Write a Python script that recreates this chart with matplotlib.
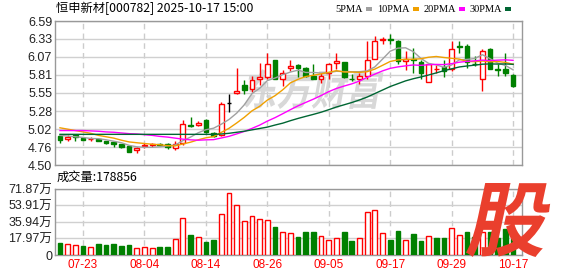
import numpy as np
import matplotlib
matplotlib.use("Agg")
import matplotlib.pyplot as plt
from matplotlib.patches import Rectangle, PathPatch
from matplotlib.textpath import TextPath
from matplotlib.font_manager import FontProperties
from matplotlib.transforms import Affine2D, blended_transform_factory

plt.rcParams["font.family"] = ["Liberation Sans", "Noto Sans CJK SC"]

# ===============================
#  Data
# ===============================

dates = ["07-18", "07-21", "07-22", "07-23", "07-24", "07-25", "07-28", "07-29",
         "07-30", "07-31", "08-01", "08-04", "08-05", "08-06", "08-07", "08-08",
         "08-11", "08-12", "08-13", "08-14", "08-15", "08-18", "08-19", "08-20",
         "08-21", "08-22", "08-25", "08-26", "08-27", "08-28", "08-29", "09-01",
         "09-02", "09-03", "09-04", "09-05", "09-08", "09-09", "09-10", "09-11",
         "09-12", "09-15", "09-16", "09-17", "09-18", "09-19", "09-22", "09-23",
         "09-24", "09-25", "09-26", "09-29", "09-30", "10-09", "10-10", "10-13",
         "10-14", "10-15", "10-16", "10-17"]

opens = [4.92, 4.875, 4.93, 4.885, 4.875, 4.875, 4.85, 4.83, 4.805, 4.77,
         4.715, 4.77, 4.785, 4.80, 4.80, 4.74, 4.82, 5.075, 5.075, 5.15,
         4.97, 4.93, 5.40, 5.545, 5.66, 5.60, 5.745, 5.77, 6.03, 5.755,
         5.905, 5.95, 5.91, 5.79, 5.745, 5.84, 5.975, 6.00, 5.75, 5.745,
         5.79, 6.045, 6.32, 6.335, 6.295, 6.01, 6.035, 5.99, 5.71, 5.89,
         5.925, 5.89, 6.22, 6.225, 5.97, 5.745, 6.185, 5.895, 5.90, 5.80]
highs = [4.955, 4.94, 4.93, 4.90, 4.90, 4.89, 4.855, 4.835, 4.81, 4.77,
         4.76, 4.82, 4.82, 4.82, 4.82, 4.85, 5.15, 5.20, 5.135, 5.17,
         4.98, 5.41, 5.53, 5.91, 5.735, 5.79, 5.975, 6.12, 6.03, 5.88,
         6.02, 5.96, 5.92, 5.96, 5.84, 5.985, 6.13, 6.00, 5.82, 5.84,
         6.30, 6.37, 6.355, 6.405, 6.32, 6.15, 6.20, 6.03, 5.985, 5.945,
         6.03, 6.30, 6.30, 6.26, 6.08, 6.185, 6.20, 5.96, 6.12, 5.82]
lows = [4.82, 4.85, 4.85, 4.86, 4.855, 4.85, 4.81, 4.76, 4.75, 4.69,
        4.675, 4.74, 4.76, 4.77, 4.735, 4.72, 4.79, 5.05, 5.06, 4.97,
        4.91, 4.92, 5.265, 5.53, 5.53, 5.565, 5.66, 5.745, 5.75, 5.64,
        5.865, 5.77, 5.77, 5.745, 5.69, 5.745, 5.90, 5.765, 5.72, 5.67,
        5.745, 6.045, 6.26, 6.26, 5.96, 5.88, 5.83, 5.745, 5.71, 5.84,
        5.77, 5.865, 6.13, 5.91, 5.94, 5.57, 5.89, 5.79, 5.79, 5.63]
closes = [4.87, 4.90, 4.905, 4.87, 4.88, 4.855, 4.82, 4.80, 4.76, 4.69,
          4.75, 4.785, 4.80, 4.795, 4.76, 4.81, 5.10, 5.06, 5.11, 4.98,
          4.92, 5.39, 5.40, 5.57, 5.59, 5.735, 5.77, 5.96, 5.755, 5.83,
          5.93, 5.91, 5.79, 5.755, 5.79, 5.96, 6.005, 5.77, 5.745, 5.79,
          6.02, 6.295, 6.335, 6.32, 6.01, 6.045, 6.02, 5.84, 5.96, 5.90,
          5.87, 6.19, 6.21, 5.995, 5.96, 6.15, 5.90, 5.885, 5.83, 5.64]
prev_close = 4.93

# volume in 万 shares
volumes = [13.4, 12.0, 11.3, 9.5, 8.5, 11.6, 10.6, 11.6, 9.9, 10.6,
           7.4, 8.5, 7.4, 8.8, 8.8, 16.9, 39.8, 22.2, 20.1, 13.7,
           15.9, 45.1, 67.6, 54.6, 36.6, 42.3, 38.8, 37.7, 30.7, 25.0,
           24.0, 20.1, 25.4, 25.4, 20.8, 16.6, 18.7, 25.4, 14.8, 18.0,
           46.5, 48.6, 24.0, 15.9, 26.4, 15.9, 22.9, 14.8, 20.8, 18.0,
           19.0, 29.3, 21.9, 25.4, 20.0, 24.7, 25.0, 19.0, 28.2, 17.8856]

ma5 = [4.93, 4.92, 4.91, 4.90, 4.885, 4.882, 4.866, 4.845, 4.823, 4.785,
       4.764, 4.757, 4.757, 4.764, 4.778, 4.79, 4.853, 4.905, 4.968, 5.012,
       5.034, 5.092, 5.16, 5.252, 5.374, 5.537, 5.613, 5.725, 5.762, 5.81,
       5.849, 5.877, 5.843, 5.843, 5.835, 5.841, 5.86, 5.856, 5.854, 5.854,
       5.866, 5.924, 6.037, 6.152, 6.196, 6.201, 6.146, 6.047, 5.975, 5.953,
       5.918, 5.952, 6.026, 6.033, 6.045, 6.101, 6.043, 5.978, 5.945, 5.881]
ma10 = [5.04, 5.02, 5.00, 4.98, 4.96, 4.93, 4.91, 4.89, 4.86, 4.835,
        4.823, 4.812, 4.801, 4.794, 4.782, 4.777, 4.805, 4.831, 4.866, 4.895,
        4.912, 4.973, 5.032, 5.109, 5.192, 5.286, 5.352, 5.442, 5.506, 5.591,
        5.692, 5.744, 5.784, 5.803, 5.823, 5.845, 5.869, 5.850, 5.849, 5.845,
        5.854, 5.892, 5.947, 6.003, 6.025, 6.034, 6.035, 6.042, 6.064, 6.075,
        6.06, 6.049, 6.037, 6.004, 5.999, 6.01, 5.998, 6.002, 5.989, 5.963]
ma20 = [5.00, 5.00, 5.00, 5.00, 4.995, 4.99, 4.98, 4.975, 4.965, 4.955,
        4.95, 4.94, 4.93, 4.915, 4.905, 4.89, 4.875, 4.865, 4.86, 4.865,
        4.868, 4.892, 4.916, 4.951, 4.987, 5.031, 5.079, 5.137, 5.187, 5.244,
        5.303, 5.359, 5.408, 5.456, 5.508, 5.565, 5.611, 5.646, 5.678, 5.718,
        5.773, 5.819, 5.866, 5.903, 5.924, 5.939, 5.952, 5.946, 5.956, 5.96,
        5.957, 5.971, 5.992, 6.004, 6.012, 6.022, 6.016, 6.022, 6.026, 6.019]
ma30 = [4.945, 4.945, 4.945, 4.945, 4.945, 4.945, 4.945, 4.945, 4.945, 4.945,
        4.945, 4.945, 4.945, 4.945, 4.945, 4.945, 4.945, 4.945, 4.945, 4.945,
        4.945, 4.95, 4.96, 4.975, 4.99, 5.01, 5.03, 5.05, 5.08, 5.107,
        5.143, 5.176, 5.206, 5.235, 5.266, 5.303, 5.342, 5.374, 5.407, 5.444,
        5.486, 5.537, 5.588, 5.639, 5.680, 5.721, 5.752, 5.778, 5.806, 5.837,
        5.869, 5.896, 5.923, 5.937, 5.949, 5.963, 5.967, 5.965, 5.967, 5.961]

price_ticks = [4.50, 4.76, 5.02, 5.28, 5.55, 5.81, 6.07, 6.33, 6.59]
vol_ticks = [0, 17.97, 35.94, 53.91, 71.87]
vol_tick_labels = ["0", "17.97万", "35.94万", "53.91万", "71.87万"]
date_labels = ["07-23", "08-04", "08-14", "08-26", "09-05", "09-17", "09-29", "10-17"]

ma_names = ["5PMA", "10PMA", "20PMA", "30PMA"]
ma_colors = ["#a0a0a0", "#f0a000", "#ff00ff", "#006633"]

RED = "#ff0000"
GREEN = "#008000"
W, H = 578, 276


def skew_text(fig, s, box, color, angle, weight, zorder, alpha=1.0):
    # glyph path stretched into a pixel box, slanted like the site logos
    x0, y0, w, h = box
    prop = FontProperties(family="Noto Sans CJK SC", weight=weight)
    tp = TextPath((0, 0), s, size=1, prop=prop)
    ext = tp.get_extents()
    tr = (Affine2D().translate(-ext.x0, -ext.y0)
          .scale(w / ext.width, h / ext.height)
          .skew_deg(angle, 0).translate(x0, y0)
          .scale(1 / W, 1 / H) + fig.transFigure)
    fig.add_artist(PathPatch(tp, transform=tr, fc=color, ec="none",
                             zorder=zorder, alpha=alpha))


def main() -> None:
    x = np.arange(len(closes))
    o = np.array(opens)
    c = np.array(closes)
    tick_pos = [dates.index(d) for d in date_labels]

    fig = plt.figure(figsize=(W / 100, H / 100), dpi=100)
    ax = fig.add_axes([55 / W, 111 / H, 467 / W, 144 / H])
    axv = fig.add_axes([55 / W, 21 / H, 467 / W, 66 / H])

    # watermark behind the candles
    skew_text(fig, "东方财富", (243, 167, 134, 40), "#d8d8d8", 10, "bold", -1)

    for a in (ax, axv):
        a.set_facecolor("none")
        a.set_xlim(-0.65, 60.16)
        for sp in a.spines.values():
            sp.set_color("#999999")
            sp.set_linewidth(1)
        a.set_axisbelow(True)
        a.set_xticks(tick_pos)
        a.set_xticklabels([])
        a.grid(axis="x", color="#cccccc", ls=(0, (4, 3)), lw=1)
        a.grid(axis="y", color="#d0d0d0", ls="-", lw=1)
        a.tick_params(length=0)

    # ---- price panel ----
    ax.set_ylim(price_ticks[0], price_ticks[-1])
    ax.set_yticks(price_ticks)
    ax.tick_params(axis="y", pad=2, labelsize=9)
    ax.set_yticklabels([f"{t:.2f}" for t in price_ticks], color="#222222")

    edge = np.where(c > o, RED, np.where(c < o, GREEN, "#000000"))
    face = np.where(c > o, "white", np.where(c < o, GREEN, "#000000"))
    ax.vlines(x, lows, highs, colors=edge, lw=1, zorder=2)
    body = np.maximum(np.abs(c - o), 0.006)
    ax.bar(x, body, bottom=np.minimum(o, c), width=0.62, color=face,
           edgecolor=edge, linewidth=1, zorder=3)

    for vals, col in zip([ma5, ma10, ma20, ma30], ma_colors):
        ax.plot(x, vals, color=col, lw=1, zorder=4)

    # ---- volume panel ----
    prev = np.concatenate([[prev_close], c[:-1]])
    vol_up = c >= prev
    axv.set_ylim(0, vol_ticks[-1])
    axv.set_yticks(vol_ticks)
    axv.tick_params(axis="y", pad=2, labelsize=9)
    axv.set_yticklabels(vol_tick_labels, color="#222222")
    axv.bar(x, volumes, width=0.62,
            color=np.where(vol_up, "white", GREEN),
            edgecolor=np.where(vol_up, RED, GREEN), linewidth=1, zorder=3)

    # red date labels under the volume panel
    lbl_tr = blended_transform_factory(axv.transData, axv.transAxes)
    for pos, lbl in zip(tick_pos, date_labels):
        axv.text(pos, -0.15, lbl, transform=lbl_tr, ha="center", va="center",
                 fontsize=8.5, color=RED, clip_on=False)

    # ---- header texts ----
    fig.text(56 / W, 1 - 8.5 / H, "恒申新材[000782] 2025-10-17 15:00",
             fontsize=8.8, va="center", ha="left",
             family=["Noto Sans CJK SC", "DejaVu Sans"])
    legend_ends = [363, 410, 456, 502]
    for name, col, xe in zip(ma_names, ma_colors, legend_ends):
        fig.text(xe / W, 1 - 9 / H, name, fontsize=7.5, va="center", ha="right",
                 family="Liberation Serif")
        fig.add_artist(Rectangle(((xe + 3) / W, 1 - 10.5 / H), 6 / W, 3.5 / H,
                                 transform=fig.transFigure, color=col, lw=0))

    fig.text(57 / W, 1 - 177 / H, "成交量:178856", fontsize=8.8, va="center",
             ha="left", family=["Noto Sans CJK SC", "DejaVu Sans"])

    # red logo in the corner, on top of the bars
    skew_text(fig, "股", (465, 19, 76, 74), "#ea3f2d", 12, "bold", 10)

    fig.savefig("out.png", dpi=100)
    plt.close(fig)


if __name__ == "__main__":
    main()
